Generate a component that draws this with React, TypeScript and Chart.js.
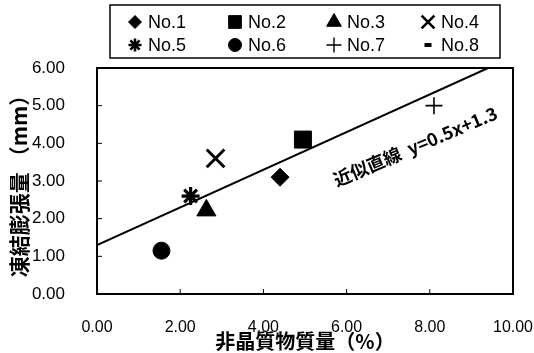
import React, { useEffect, useRef } from "react";
import { Chart, registerables } from "chart.js";
import { drawPoint } from "chart.js/helpers";

Chart.register(...registerables);

// ---- data ----
const seriesNames = ["No.1", "No.2", "No.3", "No.4", "No.5", "No.6", "No.7", "No.8"];
const xValues: (number | null)[] = [4.4, 4.95, 2.63, 2.85, 2.25, 1.55, 8.1, null];
const yValues: (number | null)[] = [3.1, 4.1, 2.22, 3.6, 2.6, 1.15, 5.0, null];
const pointStyles = ["rectRot", "rect", "triangle", "crossRot", "star", "circle", "cross", "line"];
const fitLineX = [0, 9.4];
const fitLineY = [1.3, 6.0];
const fitLabel = "近似直線  y=0.5x+1.3";
const fitLabelAt = [7.65, 3.92];
const xTicks = [0, 2, 4, 6, 8, 10];
const yTicks = [0, 1, 2, 3, 4, 5, 6];
const xTitle = "非晶質物質量（%）";
const yTitle = "凍結膨張量 （mm）";

// ---- styles ----
const plotRadius: Record<string, number> = {
  rectRot: 9, rect: 12, triangle: 11, crossRot: 12.5, star: 9, circle: 8.5, cross: 8.5, line: 4,
};
const plotBorder: Record<string, number> = {
  rectRot: 1, rect: 1, triangle: 1, crossRot: 3, star: 3.2, circle: 1, cross: 1.6, line: 3,
};
const legendRadius: Record<string, number> = {
  rectRot: 6.5, rect: 9, triangle: 8.5, crossRot: 9, star: 6.5, circle: 6.5, cross: 7.5, line: 3.5,
};
const legendBorder: Record<string, number> = {
  rectRot: 1, rect: 1, triangle: 1, crossRot: 2.6, star: 2.6, circle: 1, cross: 1.4, line: 4,
};

const TICK_FONT = '"Liberation Sans", Arial, sans-serif';
const CJK_FONT = '"Noto Sans CJK JP", sans-serif';

const framePlugin = {
  id: "framePlugin",
  afterDraw(chart: any) {
    const { ctx, chartArea: a, scales } = chart;
    ctx.save();
    // frame
    ctx.strokeStyle = "#000";
    ctx.lineWidth = 2;
    ctx.strokeRect(a.left, a.top, a.right - a.left, a.bottom - a.top);
    // inward ticks
    ctx.lineWidth = 1;
    xTicks.forEach((v) => {
      const px = scales.x.getPixelForValue(v);
      ctx.beginPath();
      ctx.moveTo(px, a.bottom);
      ctx.lineTo(px, a.bottom - 5);
      ctx.stroke();
    });
    yTicks.forEach((v) => {
      const py = scales.y.getPixelForValue(v);
      ctx.beginPath();
      ctx.moveTo(a.left, py);
      ctx.lineTo(a.left + 5, py);
      ctx.stroke();
    });
    ctx.restore();

    // fit label
    ctx.save();
    const lx = scales.x.getPixelForValue(fitLabelAt[0]);
    const ly = scales.y.getPixelForValue(fitLabelAt[1]);
    ctx.translate(lx, ly);
    ctx.rotate((-23 * Math.PI) / 180);
    ctx.fillStyle = "#000";
    ctx.font = `bold 18px ${CJK_FONT}`;
    ctx.textAlign = "center";
    ctx.textBaseline = "middle";
    ctx.fillText(fitLabel, 0, 0);
    ctx.restore();

    // legend
    ctx.save();
    const boxL = 110, boxT = 5, boxR = 500, boxB = 58;
    ctx.strokeStyle = "#000";
    ctx.lineWidth = 1.5;
    ctx.strokeRect(boxL, boxT, boxR - boxL, boxB - boxT);
    const colX = [135, 235, 334, 428];
    const rowY = [22, 45];
    ctx.font = `18px ${TICK_FONT}`;
    ctx.textAlign = "left";
    ctx.textBaseline = "middle";
    seriesNames.forEach((name, i) => {
      const cx = colX[i % 4];
      const cy = rowY[Math.floor(i / 4)];
      const st = pointStyles[i];
      ctx.fillStyle = "#000";
      ctx.strokeStyle = "#000";
      ctx.lineWidth = legendBorder[st];
      drawPoint(ctx, { pointStyle: st, radius: legendRadius[st], rotation: 0, borderWidth: legendBorder[st] } as any, cx, cy);
      ctx.fillStyle = "#000";
      ctx.fillText(name, cx + 13, cy + 1);
    });
    ctx.restore();
  },
};

export default function App() {
  const ref = useRef<HTMLCanvasElement | null>(null);
  useEffect(() => {
    if (!ref.current) return;
    const scatterSets = seriesNames.map((name, i) => {
      const st = pointStyles[i];
      const pts =
        xValues[i] === null || yValues[i] === null ? [] : [{ x: xValues[i] as number, y: yValues[i] as number }];
      return {
        type: "scatter" as const,
        label: name,
        data: pts,
        pointStyle: st,
        pointRadius: plotRadius[st],
        pointBorderWidth: plotBorder[st],
        backgroundColor: "#000",
        borderColor: "#000",
      };
    });
    const lineSet = {
      type: "line" as const,
      label: "fit",
      data: fitLineX.map((x, i) => ({ x, y: fitLineY[i] })),
      borderColor: "#000",
      borderWidth: 2,
      pointRadius: 0,
      fill: false,
    };
    const chart = new Chart(ref.current, {
      type: "scatter",
      data: { datasets: [...scatterSets, lineSet] as any },
      options: {
        animation: false,
        responsive: false,
        layout: { padding: { top: 68, right: 21, left: 0, bottom: 0 } },
        plugins: { legend: { display: false }, tooltip: { enabled: false } },
        scales: {
          x: {
            type: "linear",
            min: 0,
            max: 10,
            afterBuildTicks: (s: any) => {
              s.ticks = xTicks.map((v) => ({ value: v }));
            },
            afterFit: (s: any) => {
              s.height = 59;
              s.paddingLeft = 0;
              s.paddingRight = 0;
            },
            grid: { display: false },
            border: { display: false },
            ticks: {
              color: "#000",
              padding: 16,
              maxRotation: 0,
              font: { family: TICK_FONT, size: 16 },
              callback: (v: any) => Number(v).toFixed(2),
            },
            title: {
              display: true,
              text: xTitle,
              color: "#000",
              font: { family: CJK_FONT, size: 20, weight: "bold" },
              padding: { top: 0, bottom: 0 },
            },
          },
          y: {
            type: "linear",
            min: 0,
            max: 6,
            afterBuildTicks: (s: any) => {
              s.ticks = yTicks.map((v) => ({ value: v }));
            },
            afterFit: (s: any) => {
              s.width = 97;
              s.paddingTop = 0;
              s.paddingBottom = 0;
            },
            grid: { display: false },
            border: { display: false },
            ticks: {
              color: "#000",
              padding: 24,
              font: { family: TICK_FONT, size: 17 },
              callback: (v: any) => Number(v).toFixed(2),
            },
            title: {
              display: true,
              text: yTitle,
              color: "#000",
              font: { family: CJK_FONT, size: 21, weight: "bold" },
              padding: { top: 6, bottom: 0 },
            },
          },
        },
      },
      plugins: [framePlugin],
    });
    return () => chart.destroy();
  }, []);
  return (
    <div style={{ position: "absolute", left: 0, top: 0, width: 534, height: 353, background: "#fff" }}>
      <canvas ref={ref} width={534} height={353} />
    </div>
  );
}
